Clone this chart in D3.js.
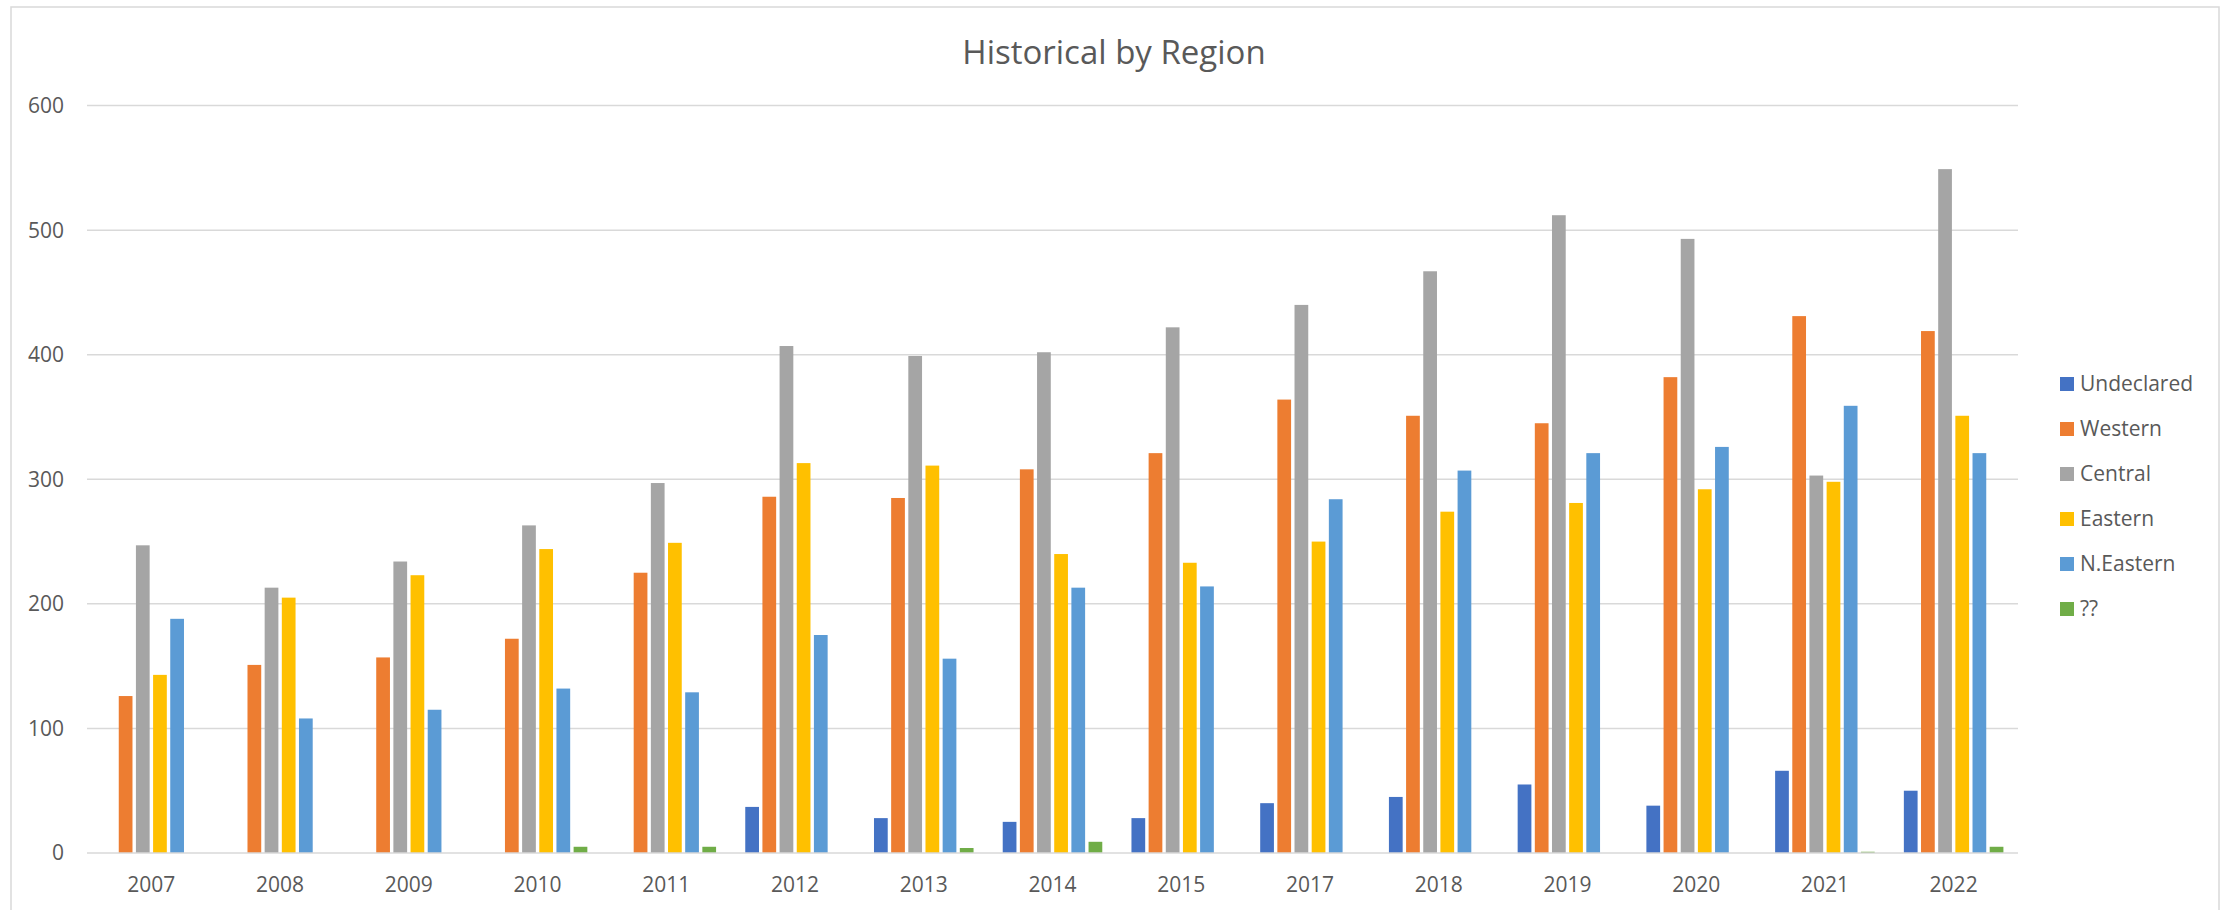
<!DOCTYPE html>
<html>
<head>
<meta charset="utf-8">
<script src="https://cdn.jsdelivr.net/npm/d3@7"></script>
<style>
    body { margin: 0; background: #fff; }
    text { font-family: "Open Sans", "Noto Sans", sans-serif; fill: #595959; }
</style>
</head>
<body>
<div id="chart-bar"></div>
<script>
const years = ["2007", "2008", "2009", "2010", "2011", "2012", "2013", "2014", "2015", "2017", "2018", "2019", "2020", "2021", "2022"];
const seriesNames = ["Undeclared", "Western", "Central", "Eastern", "N.Eastern", "??"];
const undeclared = [0, 0, 0, 0, 0, 37, 28, 25, 28, 40, 45, 55, 38, 66, 50];
const western = [126, 151, 157, 172, 225, 286, 285, 308, 321, 364, 351, 345, 382, 431, 419];
const central = [247, 213, 234, 263, 297, 407, 399, 402, 422, 440, 467, 512, 493, 303, 549];
const eastern = [143, 205, 223, 244, 249, 313, 311, 240, 233, 250, 274, 281, 292, 298, 351];
const nEastern = [188, 108, 115, 132, 129, 175, 156, 213, 214, 284, 307, 321, 326, 359, 321];
const unknown = [0, 0, 0, 5, 5, 0, 4, 9, 0, 0, 0, 0, 0, 1, 5];
const yTicks = [0, 100, 200, 300, 400, 500, 600];

const colors = ["#4472C4", "#ED7D31", "#A5A5A5", "#FFC000", "#5B9BD5", "#70AD47"];
const allSeries = [undeclared, western, central, eastern, nEastern, unknown];

const W = 2231, H = 910;
const plot = { left: 87, right: 2018, top: 105.6, bottom: 853 };

const svg = d3.select("#chart-bar")
    .append("svg")
    .attr("width", W)
    .attr("height", H);

// chart frame
svg.append("rect")
    .attr("x", 11).attr("y", 7)
    .attr("width", 2208).attr("height", 940)
    .attr("fill", "none")
    .attr("stroke", "#d9d9d9")
    .attr("stroke-width", 1.5);

const x0 = d3.scaleBand()
    .domain(years)
    .range([plot.left, plot.right])
    .paddingInner(0.2)
    .paddingOuter(0.1);

const x1 = d3.scaleBand()
    .domain(seriesNames)
    .range([0, x0.bandwidth()])
    .paddingInner(0.2)
    .paddingOuter(0.1);

const y = d3.scaleLinear()
    .domain([0, 600])
    .range([plot.bottom, plot.top]);

// gridlines + y labels
svg.append("g")
    .selectAll("line")
    .data(yTicks.slice(1))
    .join("line")
    .attr("x1", plot.left).attr("x2", plot.right)
    .attr("y1", d => y(d)).attr("y2", d => y(d))
    .attr("stroke", "#d9d9d9")
    .attr("stroke-width", 1.5);

svg.append("g")
    .selectAll("text")
    .data(yTicks)
    .join("text")
    .attr("x", 64)
    .attr("y", d => y(d))
    .attr("dy", "0.35em")
    .attr("text-anchor", "end")
    .style("font-size", "21px")
    .text(d => d);

// bars
const groups = svg.append("g")
    .selectAll("g")
    .data(years)
    .join("g")
    .attr("transform", d => `translate(${x0(d)},0)`);

groups.selectAll("rect")
    .data((d, i) => seriesNames.map((s, j) => ({ series: s, value: allSeries[j][i], color: colors[j] })))
    .join("rect")
    .attr("x", d => x1(d.series))
    .attr("y", d => y(d.value))
    .attr("width", x1.bandwidth())
    .attr("height", d => plot.bottom - y(d.value))
    .attr("fill", d => d.color);

// baseline
svg.append("line")
    .attr("x1", plot.left).attr("x2", plot.right)
    .attr("y1", plot.bottom).attr("y2", plot.bottom)
    .attr("stroke", "#d9d9d9")
    .attr("stroke-width", 1.5);

// x labels
svg.append("g")
    .selectAll("text")
    .data(years)
    .join("text")
    .attr("x", d => x0(d) + x0.bandwidth() / 2)
    .attr("y", 885)
    .attr("dy", "0.35em")
    .attr("text-anchor", "middle")
    .style("font-size", "21px")
    .text(d => d);

// title
svg.append("text")
    .attr("x", 1114)
    .attr("y", 64)
    .attr("text-anchor", "middle")
    .style("font-size", "33px")
    .text("Historical by Region");

// legend
const legend = svg.append("g")
    .selectAll("g")
    .data(seriesNames)
    .join("g")
    .attr("transform", (d, i) => `translate(2060,${377 + i * 45})`);

legend.append("rect")
    .attr("width", 14).attr("height", 14)
    .attr("fill", (d, i) => colors[i]);

legend.append("text")
    .attr("x", 20)
    .attr("y", 7)
    .attr("dy", "0.35em")
    .style("font-size", "21px")
    .text(d => d);
</script>
</body>
</html>
